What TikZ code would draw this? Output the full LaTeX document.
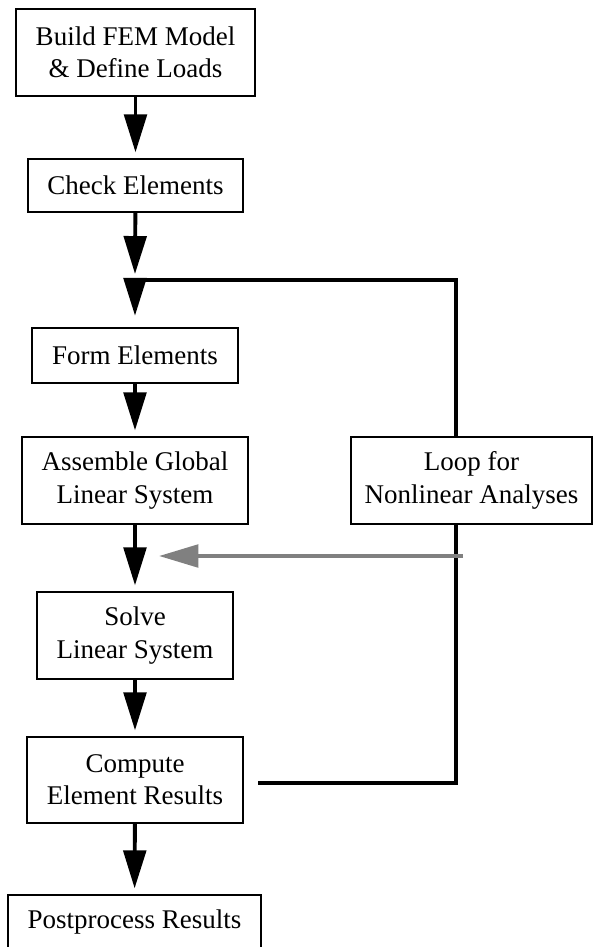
\documentclass[tikz,border=0pt]{standalone}
\usepackage{fontspec}
\setmainfont{Liberation Serif}
\usepackage{xcolor}
\usepackage{tikz}
\usetikzlibrary{positioning,arrows.meta,calc,backgrounds}
\definecolor{flow}{HTML}{000000}
\definecolor{back}{HTML}{808080}
\tikzset{
  box/.style={draw=flow,line width=1.4pt,fill=white,inner sep=2pt,align=center,font=\fontsize{19.2}{23}\selectfont},
  arr/.style={-{Triangle[length=27pt,width=16pt]},line width=2.8pt,flow,shorten >=4pt},
  loopline/.style={-{Triangle[length=27pt,width=16pt]},line width=3pt,flow,line join=miter},
  backarr/.style={-{Triangle[length=28pt,width=16pt]},line width=2.8pt,back},
}
\begin{document}
\begin{tikzpicture}[x=0.025cm,y=-0.025cm]
\useasboundingbox (0,0) rectangle (594,947);
\node[box,minimum width=5.975cm,minimum height=2.175cm] (build) at (135.5,52.5) {Build FEM Model\\\& Define Loads};
\node[box,minimum width=5.375cm,minimum height=1.325cm] (check) at (135.5,185.5) {Check Elements};
\node[box,minimum width=5.15cm,minimum height=1.375cm] (form) at (135,355.5) {Form Elements};
\node[box,minimum width=5.65cm,minimum height=2.175cm] (assemble) at (135,480.5) {Assemble Global\\Linear System};
\node[box,minimum width=6.025cm,minimum height=2.175cm] (loop) at (471.5,480.5) {Loop for\\Nonlinear Analyses};
\node[box,minimum width=4.9cm,minimum height=2.175cm] (solve) at (135,635.5) {Solve\\Linear System};
\node[box,minimum width=5.4cm,minimum height=2.15cm] (compute) at (135,780) {Compute\\Element Results};
\node[box,minimum width=6.325cm,minimum height=1.325cm] (post) at (134.5,921.5) {Postprocess Results};
% main chain
\foreach \a/\b in {build/check,form/assemble,assemble/solve,solve/compute,compute/post}{\draw[arr] (\a) -- (\b);}
\coordinate (gap) at (135,274);
\draw[arr,shorten >=0pt] (check) -- (gap);
% nonlinear loop, behind the loop box
\coordinate (lbot) at (456,783);
\coordinate (ltop) at (456,280);
\coordinate (lin) at (135,280);
\begin{scope}[on background layer]
\draw[loopline,shorten <=10pt,shorten >=8pt] (compute.east |- lbot) -- (lbot) -- (ltop) -- (lin) -- (form.north);
\coordinate (gstart) at (463,556);
\coordinate (gend) at (159,556);
\draw[backarr] (gstart) -- (gend);
\end{scope}
\end{tikzpicture}
\end{document}
